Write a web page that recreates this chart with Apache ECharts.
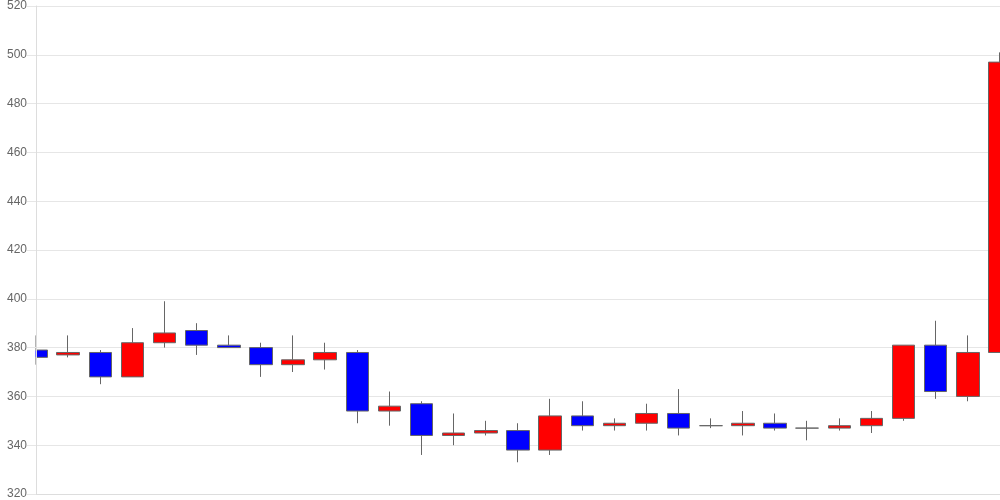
<!DOCTYPE html>
<html>
<head>
<meta charset="utf-8">
<script src="https://cdn.jsdelivr.net/npm/echarts@6/dist/echarts.min.js"></script>
<style>html,body{margin:0;padding:0;background:#fff}#c{width:1000px;height:500px}</style>
</head>
<body>
<div id="c"></div>
<script>
var categories = ['1','2','3','4','5','6','7','8','9','10','11','12','13','14','15','16','17','18','19','20','21','22','23','24','25','26','27','28','29','30','31'];
var openVals  = [379,377,378,368,382,387,381,380,373,375,378,354,357,344,345,346,338,352,348,349,353,348,348,349,347,347,348,351,381,360,378];
var closeVals = [376,378,368,382,386,381,380,373,375,378,354,356,344,345,346,338,352,348,349,353,347,348,349,347,347,348,351,381,362,378,497];
var lowVals   = [373,376,365,368,380,377,380,368,370,371,349,348,336,340,344,333,336,346,346,346,344,347,344,346,342,346,345,350,359,358,378];
var highVals  = [385,385,379,388,399,390,385,382,385,382,379,362,358,353,350,349,359,358,351,357,363,351,354,353,350,351,354,381,391,385,501];
var yTicks = {min: 320, max: 520, interval: 20};

var data = categories.map(function(c, i){ return [openVals[i], closeVals[i], lowVals[i], highVals[i]]; });
var chart = echarts.init(document.getElementById('c'));
chart.setOption({
  animation: false,
  grid: {left: 36, right: 0, top: 6, bottom: 6, containLabel: false},
  graphic: [{
    type: 'rect', left: 0, top: 0, z: 5, silent: true,
    shape: {x: 0, y: 0, width: 35.5, height: 500},
    style: {fill: '#ffffff'}
  }],
  xAxis: {
    type: 'category', data: categories, boundaryGap: false, z: 0,
    axisLine: {show: true, lineStyle: {color: '#dddddd'}},
    axisTick: {show: false}, axisLabel: {show: false}, splitLine: {show: false}
  },
  yAxis: [{
    type: 'value', min: yTicks.min, max: yTicks.max, interval: yTicks.interval, z: 0,
    axisLine: {show: false}, axisTick: {show: false}, axisLabel: {show: false},
    splitLine: {show: true, lineStyle: {color: '#e6e6e6'}}
  }, {
    type: 'value', position: 'left', min: yTicks.min, max: yTicks.max, interval: yTicks.interval, z: 10,
    axisLine: {show: true, lineStyle: {color: '#dddddd'}},
    axisTick: {show: true, length: 9, lineStyle: {color: '#e6e6e6'}},
    axisLabel: {color: '#666666', fontSize: 12, fontFamily: 'Liberation Sans, Arial, sans-serif', margin: 9},
    splitLine: {show: false}
  }],
  series: [{
    type: 'candlestick',
    yAxisIndex: 0,
    data: data,
    barWidth: 23,
    clip: true,
    itemStyle: {
      color: '#ff0000', color0: '#0000ff',
      borderColor: '#666666', borderColor0: '#666666',
      borderColorDoji: '#666666',
      borderWidth: 1
    }
  }]
});
</script>
</body>
</html>
